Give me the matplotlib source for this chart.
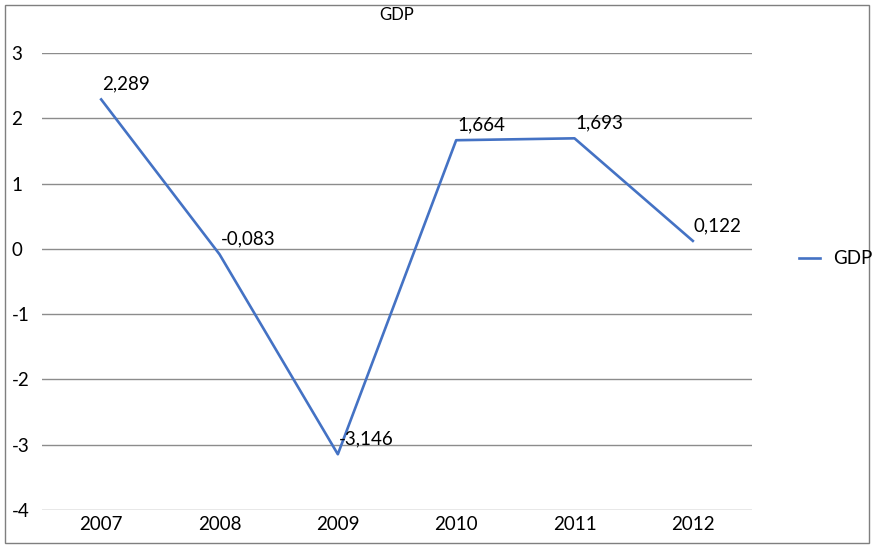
import matplotlib
import numpy as np
from matplotlib import pyplot as plt
from matplotlib.patches import Rectangle

matplotlib.rcParams['font.family'] = ['Lato', 'DejaVu Sans']

#------------------数据------------------#
years = ['2007', '2008', '2009', '2010', '2011', '2012']
gdp = [2.289, -0.083, -3.146, 1.664, 1.693, 0.122]
yticks = [-4, -3, -2, -1, 0, 1, 2, 3]

W, H = 873, 547
fig = plt.figure(figsize=(W / 100, H / 100), dpi=100)
ax = fig.add_axes([42 / W, 1 - 510 / H, (752 - 42) / W, (510 - 53) / H])

x = np.arange(len(years))
line, = ax.plot(x, gdp, color='#4472C4', lw=1.9, label='GDP')

for xi, v in zip(x, gdp):
    ax.annotate(('%.3f' % v).replace('.', ','), (xi, v), xytext=(1, 7),
                textcoords='offset pixels', ha='left', va='bottom', fontsize=13.5)

ax.set_xlim(-0.5, len(years) - 0.5)
ax.set_ylim(-4, 3)
ax.set_yticks(yticks)
ax.set_yticklabels([str(t) for t in yticks])
ax.set_xticks(x)
ax.set_xticklabels(years)
ax.tick_params(length=0, labelsize=13.5)
ax.tick_params(axis='x', pad=4)
for lbl in ax.get_yticklabels():
    lbl.set_horizontalalignment('left')
ax.yaxis.set_tick_params(pad=22)
ax.grid(axis='y', color='#8c8c8c', lw=1)
ax.set_axisbelow(True)
for s in ax.spines.values():
    s.set_visible(False)

fig.text(397 / W, 1 - 15 / H, 'GDP', ha='center', va='center', fontsize=12)

fig.legend(handles=[line], loc='center left', bbox_to_anchor=(782 / W, 1 - 259 / H),
           frameon=False, fontsize=13.5, handlelength=1.1, handletextpad=0.7)

fig.patches.append(Rectangle((5 / W, 4 / H), 864 / W, 538 / H, transform=fig.transFigure,
                             fill=False, edgecolor='#7f7f7f', lw=1))

plt.savefig('out.png', dpi=100)
